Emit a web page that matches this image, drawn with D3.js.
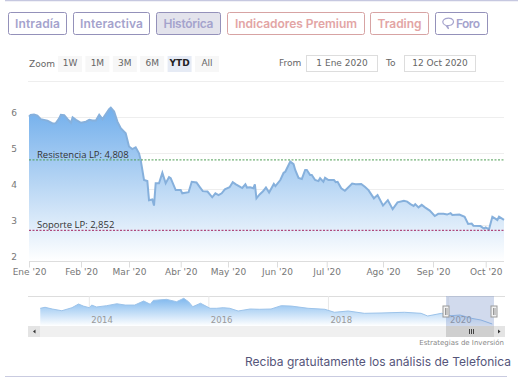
<!DOCTYPE html>
<html>
<head>
<meta charset="utf-8">
<script src="https://cdn.jsdelivr.net/npm/d3@7/dist/d3.min.js"></script>
<style>
  html, body { margin: 0; padding: 0; background: #fff; }
  svg { display: block; }
  text { font-family: "DejaVu Sans", sans-serif; }
</style>
</head>
<body>
<div id="chart"></div>
<script>
const priceDates = [
  "2020-01-01","2020-01-02","2020-01-04","2020-01-06","2020-01-08","2020-01-10","2020-01-12","2020-01-15","2020-01-17","2020-01-19",
  "2020-01-20","2020-01-22","2020-01-24","2020-01-26","2020-01-27","2020-01-29","2020-02-01","2020-02-04","2020-02-06","2020-02-08",
  "2020-02-10","2020-02-12","2020-02-14","2020-02-15","2020-02-18","2020-02-19","2020-02-21","2020-02-23","2020-02-25","2020-02-28",
  "2020-03-01","2020-03-03","2020-03-05","2020-03-07","2020-03-08","2020-03-09","2020-03-10","2020-03-12","2020-03-13","2020-03-15",
  "2020-03-16","2020-03-17","2020-03-19","2020-03-21","2020-03-23","2020-03-25","2020-03-26","2020-03-29","2020-04-01","2020-04-02",
  "2020-04-06","2020-04-08","2020-04-11","2020-04-13","2020-04-15","2020-04-18","2020-04-21","2020-04-23","2020-04-25","2020-04-27",
  "2020-04-29","2020-05-02","2020-05-04","2020-05-06","2020-05-09","2020-05-10","2020-05-12","2020-05-13","2020-05-15","2020-05-17",
  "2020-05-18","2020-05-19","2020-05-21","2020-05-23","2020-05-25","2020-05-27","2020-05-30","2020-05-31","2020-06-03","2020-06-05",
  "2020-06-06","2020-06-09","2020-06-11","2020-06-12","2020-06-14","2020-06-16","2020-06-18","2020-06-19","2020-06-21","2020-06-22",
  "2020-06-24","2020-06-26","2020-06-27","2020-06-29","2020-06-30","2020-07-02","2020-07-05","2020-07-06","2020-07-07","2020-07-09",
  "2020-07-11","2020-07-12","2020-07-15","2020-07-17","2020-07-20","2020-07-22","2020-07-24","2020-07-27","2020-07-29","2020-08-01",
  "2020-08-04","2020-08-07","2020-08-10","2020-08-14","2020-08-16","2020-08-18","2020-08-20","2020-08-21","2020-08-23","2020-08-25",
  "2020-08-27","2020-08-30","2020-09-02","2020-09-04","2020-09-07","2020-09-09","2020-09-11","2020-09-12","2020-09-16","2020-09-19",
  "2020-09-21","2020-09-23","2020-09-24","2020-09-28","2020-09-30","2020-10-01","2020-10-03","2020-10-05","2020-10-08","2020-10-09",
  "2020-10-12"
];
const priceValues = [
  6.01,6.06,6.07,6.04,5.94,5.92,5.90,5.82,5.83,5.96,
  6.06,6.05,5.94,5.84,5.99,5.92,5.84,5.87,5.92,5.90,
  5.90,6.06,5.94,6.01,6.22,6.26,6.15,5.87,5.69,5.55,
  5.18,5.11,5.16,4.99,4.81,4.53,4.25,4.22,3.69,3.71,
  3.54,4.16,4.16,4.45,4.16,4.33,4.30,3.97,3.97,3.88,
  3.91,4.20,4.18,4.06,3.94,3.93,3.77,3.88,3.83,3.88,
  3.99,4.05,4.19,4.13,4.05,4.03,4.13,4.04,4.05,4.02,
  4.13,3.74,3.85,3.93,4.04,3.90,4.14,4.08,4.25,4.45,
  4.48,4.76,4.69,4.53,4.31,4.28,4.53,4.53,4.39,4.39,
  4.25,4.22,4.30,4.20,4.31,4.25,4.25,4.19,4.20,4.02,
  3.95,4.00,4.15,4.13,4.14,4.06,3.97,3.74,3.83,3.54,
  3.69,3.44,3.63,3.67,3.65,3.58,3.53,3.58,3.49,3.56,
  3.49,3.40,3.25,3.31,3.31,3.29,3.33,3.28,3.29,3.23,
  3.03,3.04,2.98,2.97,2.90,2.93,2.88,3.23,3.14,3.23,
  3.14
];
const monthTicks = ["2020-01-01","2020-02-01","2020-03-01","2020-04-01","2020-05-01","2020-06-01","2020-07-01","2020-08-01","2020-09-01","2020-10-01"];
const monthLabels = ["Ene '20","Feb '20","Mar '20","Abr '20","May '20","Jun '20","Jul '20","Ago '20","Sep '20","Oct '20"];
const yTicks = [2, 3, 4, 5, 6];
const resistance = 4.808;
const support = 2.852;

const navYears = [
  2013.18,2013.26,2013.38,2013.54,2013.71,2013.82,2013.90,2014.00,2014.04,2014.12,
  2014.29,2014.46,2014.60,2014.76,2014.91,2015.02,2015.07,2015.29,2015.46,2015.58,
  2015.66,2015.73,2015.86,2016.02,2016.13,2016.24,2016.35,2016.49,2016.69,2016.85,
  2017.04,2017.21,2017.38,2017.66,2017.94,2018.10,2018.33,2018.60,2018.88,2019.27,
  2019.55,2019.66,2019.89,2020.05,2020.20,2020.39,2020.55,2020.74
];
const navValues = [
  9.14,9.53,8.87,8.20,9.38,10.8,10.0,9.38,10.4,9.65,
  10.15,10.9,10.4,10.4,11.97,10.7,12.2,12.6,11.7,13.0,
  11.7,9.76,11.1,9.14,9.14,9.38,9.14,8.10,8.87,8.76,
  8.87,10.15,10.0,9.14,8.76,7.60,8.10,7.20,7.33,7.60,
  7.20,6.17,7.20,6.28,6.55,5.28,4.62,3.07
];
const navTicks = [2014, 2016, 2018, 2020];

const purpleTabs = ["Intradía", "Interactiva", "Histórica"];
const redTabs = ["Indicadores Premium", "Trading"];
const zoomButtons = ["1W", "1M", "3M", "6M", "YTD", "All"];

const parseDate = d3.timeParse("%Y-%m-%d");
const width = 518, height = 384;

const svg = d3.select("#chart").append("svg")
  .attr("width", width)
  .attr("height", height);

// top and bottom page rules
svg.append("line").attr("x1", 5).attr("x2", 518).attr("y1", 0.5).attr("y2", 0.5)
  .attr("stroke", "#c6c8e0").attr("stroke-width", 1.5);
svg.append("line").attr("x1", 5).attr("x2", 507).attr("y1", 376.5).attr("y2", 376.5)
  .attr("stroke", "#c9cbe0");

// tabs
const tabBoxes = [[8, 66], [73, 149], [156, 220], [227, 364], [370, 428], [435, 487]];
const tabTextWidths = [45, 63, 50, 122, 44];
const tabLabels = purpleTabs.concat(redTabs);
const tabs = svg.append("g").attr("class", "tabs");
tabLabels.forEach((label, i) => {
  const red = i >= purpleTabs.length;
  tabs.append("rect")
    .attr("x", tabBoxes[i][0] + 0.5).attr("y", 12.5)
    .attr("width", tabBoxes[i][1] - tabBoxes[i][0]).attr("height", 22)
    .attr("rx", 2)
    .attr("fill", label === "Histórica" ? "#e3e3ec" : "#fff")
    .attr("stroke", red ? "#d7a3a3" : "#9491ba");
  tabs.append("text")
    .attr("x", (tabBoxes[i][0] + tabBoxes[i][1]) / 2 + 0.5).attr("y", 28)
    .attr("text-anchor", "middle")
    .attr("textLength", tabTextWidths[i])
    .style("font-family", "Inter, sans-serif")
    .style("font-size", "12px").style("font-weight", 600)
    .attr("fill", red ? "#e3a5a5" : "#a5a3cd")
    .text(label);
});
// Foro with bubble icon
tabs.append("rect").attr("x", 435.5).attr("y", 12.5).attr("width", 52).attr("height", 22)
  .attr("rx", 2).attr("fill", "#fff").attr("stroke", "#9491ba");
tabs.append("path")
  .attr("d", "M443.5 20c2-2.5 8-2.5 9.5 0c1.5 2.5-.5 5.5-4 5.5l-1.5 0l1 3.5l-2.5-3.5c-3-1-4-3.5-2.5-5.5z")
  .attr("fill", "none").attr("stroke", "#a5a3cd").attr("stroke-width", 1.2);
tabs.append("text").attr("x", 456).attr("y", 28).attr("textLength", 24)
  .style("font-family", "Inter, sans-serif")
  .style("font-size", "12px").style("font-weight", 600)
  .attr("fill", "#a5a3cd").text("Foro");

// range selector
svg.append("text").attr("x", 29).attr("y", 67)
  .style("font-size", "9px").attr("fill", "#666").text("Zoom");
zoomButtons.forEach((label, i) => {
  const cx = 70 + i * 27.4;
  svg.append("rect").attr("x", cx - 12).attr("y", 56).attr("width", 24).attr("height", 16)
    .attr("fill", label === "YTD" ? "#e6ebf5" : "#f7f7f7");
  svg.append("text").attr("x", cx).attr("y", 66)
    .attr("text-anchor", "middle")
    .style("font-size", "9px").style("font-weight", label === "YTD" ? 700 : 400)
    .attr("fill", label === "YTD" ? "#222" : "#666").text(label);
});
svg.append("text").attr("x", 279).attr("y", 66).style("font-size", "9px").attr("fill", "#666").text("From");
svg.append("text").attr("x", 386).attr("y", 66).style("font-size", "9px").attr("fill", "#666").text("To");
[[306, "1 Ene 2020"], [404, "12 Oct 2020"]].forEach(([bx, label]) => {
  svg.append("rect").attr("x", bx + 0.5).attr("y", 55.5).attr("width", 71).attr("height", 16)
    .attr("fill", "#fff").attr("stroke", "#ddd");
  svg.append("text").attr("x", bx + 36).attr("y", 66)
    .attr("text-anchor", "middle").style("font-size", "9px").attr("fill", "#666").text(label);
});
svg.append("line").attr("x1", 28).attr("x2", 504).attr("y1", 81.5).attr("y2", 81.5).attr("stroke", "#eee");

// main chart
const x = d3.scaleTime()
  .domain(monthTicks.map(parseDate).concat([parseDate("2020-10-12")]))
  .range([29, 81, 129, 180.7, 228, 277, 326.7, 383, 433, 485.7, 504]);
const y = d3.scaleLinear().domain([2, 6]).range([261, 117]);

const priceData = priceDates.map((d, i) => ({ date: parseDate(d), value: priceValues[i] }));

const defs = svg.append("defs");
const mainGrad = defs.append("linearGradient").attr("id", "mainFill")
  .attr("x1", 0).attr("y1", 0).attr("x2", 0).attr("y2", 1);
mainGrad.append("stop").attr("offset", "0%").attr("stop-color", "#72afec");
mainGrad.append("stop").attr("offset", "50%").attr("stop-color", "#b8d6f4");
mainGrad.append("stop").attr("offset", "100%").attr("stop-color", "#ffffff");
const navGrad = defs.append("linearGradient").attr("id", "navFill")
  .attr("x1", 0).attr("y1", 0).attr("x2", 0).attr("y2", 1);
navGrad.append("stop").attr("offset", "0%").attr("stop-color", "#7fb8ee");
navGrad.append("stop").attr("offset", "100%").attr("stop-color", "#ffffff");

svg.append("g")
  .attr("class", "grid")
  .selectAll("line")
  .data(yTicks.slice(1))
  .enter().append("line")
  .attr("x1", 29).attr("x2", 504)
  .attr("y1", d => y(d) + 0.5).attr("y2", d => y(d) + 0.5)
  .attr("stroke", "#eee");

const area = d3.area().x(d => x(d.date)).y0(y(2)).y1(d => y(d.value));
const line = d3.line().x(d => x(d.date)).y(d => y(d.value));

svg.append("path").datum(priceData).attr("d", area).attr("fill", "url(#mainFill)");
svg.append("path").datum(priceData).attr("d", line)
  .attr("fill", "none").attr("stroke", "#86b0dc").attr("stroke-width", 2);

const xAxis = svg.append("g")
  .attr("transform", `translate(0,${y(2) + 0.5})`)
  .call(d3.axisBottom(x).tickValues(monthTicks.map(parseDate)).tickFormat((d, i) => monthLabels[i]).tickSize(6));
xAxis.select(".domain").attr("stroke", "#ddd").attr("d", "M29,0H504");
xAxis.selectAll("line").attr("stroke", "#ddd");
xAxis.selectAll("text").attr("y", 7).attr("dy", 0)
  .attr("dominant-baseline", "hanging")
  .style("font-size", "9px").attr("fill", "#777");

const yAxis = svg.append("g")
  .attr("transform", "translate(29,0)")
  .call(d3.axisLeft(y).tickValues(yTicks).tickFormat(d3.format("d")).tickSize(0));
yAxis.select(".domain").remove();
yAxis.selectAll("text").attr("x", -12).attr("dy", "-0.15em")
  .style("font-size", "9px").attr("fill", "#777");

[[resistance, "#4f9d55", "Resistencia LP: 4,808"], [support, "#a3235f", "Soporte LP: 2,852"]].forEach(([v, color, label]) => {
  svg.append("line").attr("x1", 29).attr("x2", 504)
    .attr("y1", y(v)).attr("y2", y(v))
    .attr("stroke", color).attr("stroke-width", 1).attr("stroke-dasharray", "2,1.5");
  svg.append("text").attr("x", 37).attr("y", y(v) - 2)
    .style("font-family", "'Open Sans', sans-serif")
    .style("font-size", "9.5px")
    .attr("fill", "#333").text(label);
});

// navigator
const navX = d3.scaleLinear().domain([2014, 2020]).range([89.3, 448]);
const navY = d3.scaleLinear().domain([2.3, 13.9]).range([326, 296]);
const navData = navYears.map((d, i) => ({ t: d, value: navValues[i] }));

svg.append("line").attr("x1", 28).attr("x2", 505).attr("y1", 296.5).attr("y2", 296.5).attr("stroke", "#ddd");
svg.selectAll(".navgrid").data(navTicks).enter().append("line")
  .attr("class", "navgrid")
  .attr("x1", d => navX(d)).attr("x2", d => navX(d))
  .attr("y1", 296).attr("y2", 326).attr("stroke", "#e8e8e8");

const navArea = d3.area().x(d => navX(d.t)).y0(326).y1(d => navY(d.value));
const navLine = d3.line().x(d => navX(d.t)).y(d => navY(d.value));
svg.append("path").datum(navData).attr("d", navArea).attr("fill", "url(#navFill)");
svg.append("path").datum(navData).attr("d", navLine)
  .attr("fill", "none").attr("stroke", "#9cc3ea").attr("stroke-width", 1);

svg.selectAll(".navlabel").data(navTicks).enter().append("text")
  .attr("class", "navlabel")
  .attr("x", d => navX(d) + 2).attr("y", 323)
  .style("font-size", "8.5px")
  .attr("fill", "#999").text(d => d);

// scrollbar
svg.append("rect").attr("x", 40).attr("y", 326).attr("width", 454).attr("height", 11).attr("fill", "#f0f0f0");
svg.append("rect").attr("x", 28).attr("y", 326).attr("width", 12).attr("height", 11).attr("fill", "#e4e4e4");
svg.append("rect").attr("x", 494).attr("y", 326).attr("width", 11).attr("height", 11).attr("fill", "#e4e4e4");
svg.append("path").attr("d", "M35.5 329.5v4l-2.5-2z").attr("fill", "#333");
svg.append("path").attr("d", "M498 329.5v4l2.5-2z").attr("fill", "#333");

// selected range mask
const maskX0 = 446, maskX1 = 494;
svg.append("rect").attr("x", maskX0).attr("y", 296).attr("width", maskX1 - maskX0).attr("height", 30)
  .attr("fill", "#6685c2").attr("opacity", 0.3);
svg.append("rect").attr("x", maskX0).attr("y", 326).attr("width", maskX1 - maskX0).attr("height", 11)
  .attr("fill", "#cfcfcf");
[0, 1, 2].forEach(i => {
  svg.append("line").attr("x1", 469 + i * 2 + 0.5).attr("x2", 469 + i * 2 + 0.5)
    .attr("y1", 329).attr("y2", 334).attr("stroke", "#444");
});
[maskX0, maskX1].forEach(hx => {
  svg.append("rect").attr("x", hx - 3).attr("y", 306).attr("width", 6).attr("height", 11)
    .attr("fill", "#f2f2f2").attr("stroke", "#999");
  svg.append("line").attr("x1", hx - 0.5).attr("x2", hx - 0.5).attr("y1", 308).attr("y2", 315).attr("stroke", "#999");
  svg.append("line").attr("x1", hx + 1).attr("x2", hx + 1).attr("y1", 308).attr("y2", 315).attr("stroke", "#999");
});

svg.append("text").attr("x", 504).attr("y", 344.5)
  .attr("text-anchor", "end")
  .style("font-size", "7px").attr("fill", "#888").text("Estrategias de Inversión");

svg.append("text").attr("x", 511).attr("y", 366)
  .attr("text-anchor", "end")
  .attr("textLength", 266)
  .style("font-family", "Inter, sans-serif")
  .style("font-size", "12px")
  .attr("fill", "#55557a").text("Reciba gratuitamente los análisis de Telefonica");
</script>
</body>
</html>
